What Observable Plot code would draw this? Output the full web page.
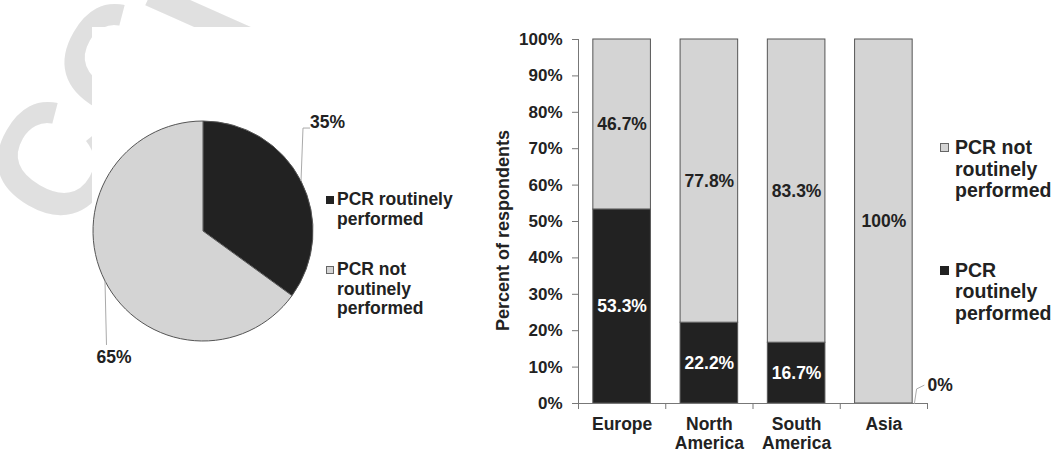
<!DOCTYPE html>
<html>
<head>
<meta charset="utf-8">
<script src="https://cdn.jsdelivr.net/npm/d3@7"></script>
<script src="https://cdn.jsdelivr.net/npm/@observablehq/plot@0.6"></script>
<style>
  html, body { margin: 0; padding: 0; background: #fff; }
  body { position: relative; width: 1052px; height: 453px; overflow: hidden;
         font-family: "Liberation Sans", Arial, Helvetica, sans-serif; font-weight: bold; color: #222; }
  #watermark { position: absolute; left: 0; top: 0; }
  #sheet { position: absolute; left: 92px; top: 27px; right: 0; bottom: 0; background: #fff; }
  #pie, #bars { position: absolute; top: 0; }
  #pie { left: 0; }
  #bars { left: 470px; }
  .legend { position: absolute; }
  .legend .item { position: relative; }
  .legend .swatch { position: absolute; box-sizing: border-box; }
</style>
</head>
<body>
<svg id="watermark" width="1052" height="453"></svg>
<div id="sheet"></div>
<div id="pie"></div>
<div id="bars"></div>
<div id="pieLegend" class="legend"></div>
<div id="barLegend" class="legend"></div>
<script>
// ---- survey results ----
const statuses = ["PCR routinely performed", "PCR not routinely performed"];
const overallShare = [35, 65];                     // all respondents, %
const regions = ["Europe", "North America", "South America", "Asia"];
const routinePct = [53.3, 22.2, 16.7, 0];           // % per region
const notRoutinePct = [46.7, 77.8, 83.3, 100];      // % per region
const yTicks = [0, 10, 20, 30, 40, 50, 60, 70, 80, 90, 100];

// ---- styling ----
const FONT = '"Liberation Sans", Arial, Helvetica, sans-serif';
const DARK = "#222222", LIGHT = "#d4d4d4", EDGE = "#555555", AXIS = "#777777", LEADER = "#aaaaaa";
const color = Plot.scale({color: {type: "ordinal", domain: statuses, range: [DARK, LIGHT]}});

// ---- faint page watermark peeking out around the figure ----
const wmGlyphs = [
  {ch: "C", x: 52, y: 160, rotate: -60},
  {ch: "C", x: 119, y: 62, rotate: -60},
  {ch: "I", x: 198, y: 16, rotate: -66}
];
d3.select("#watermark").selectAll("text").data(wmGlyphs).join("text")
  .attr("transform", d => `translate(${d.x},${d.y}) rotate(${d.rotate})`)
  .attr("text-anchor", "middle").attr("dy", "0.36em")
  .attr("font-family", FONT).attr("font-size", 160).attr("fill", "#e0e0e0")
  .text(d => d.ch);

// ---- pie: all respondents ----
const pieRows = statuses.map((status, i) => ({status, share: overallShare[i]}));

function pieMark(index, scales, values, dims) {
  const {width, height, marginTop, marginRight, marginBottom, marginLeft} = dims;
  const w = width - marginLeft - marginRight, h = height - marginTop - marginBottom;
  const cx = marginLeft + w / 2, cy = marginTop + h / 2, r = Math.min(w, h) / 2;
  const arcs = d3.pie().sort(null).value(d => d.share)(pieRows);
  const arc = d3.arc().innerRadius(0).outerRadius(r);
  const g = d3.create("svg:g").attr("transform", `translate(${cx},${cy})`);
  g.selectAll("path.slice").data(arcs).join("path").attr("class", "slice")
    .attr("d", arc)
    .attr("fill", d => color.apply(d.data.status))
    .attr("stroke", EDGE).attr("stroke-width", 1);
  arcs.forEach(a => {
    const mid = (a.startAngle + a.endAngle) / 2;
    const px = r * Math.sin(mid), py = -r * Math.cos(mid);
    let pts, lx, ly, anchor;
    if (py < 0) {          // upper slice: label up and to the right
      const ty = -r * 0.936;
      pts = [[px, py], [px + 2, ty], [px + 9, ty]];
      lx = px + 9; ly = ty - 6; anchor = "start";
    } else {               // lower slice: label straight below
      const ty = r * 1.036;
      pts = [[px, py], [px + 1.5, ty]];
      lx = px + 9; ly = ty + 12; anchor = "middle";
    }
    g.append("path").attr("d", d3.line()(pts))
      .attr("fill", "none").attr("stroke", LEADER).attr("stroke-width", 1);
    g.append("text").attr("x", lx).attr("y", ly).attr("dy", "0.36em")
      .attr("text-anchor", anchor).attr("fill", DARK).text(`${a.data.share}%`);
  });
  return g.node();
}

document.getElementById("pie").append(Plot.plot({
  width: 470, height: 453,
  marginLeft: 93, marginRight: 157, marginTop: 121, marginBottom: 112,
  style: {fontFamily: FONT, fontSize: "17.5px", fontWeight: "bold", background: "transparent", overflow: "visible"},
  marks: [pieMark]
}));

// ---- stacked bars by region ----
const inset = 0.17;
const segments = regions.flatMap((region, i) => [
  {region, i, status: statuses[0], v: routinePct[i], y1: 0, y2: routinePct[i]},
  {region, i, status: statuses[1], v: notRoutinePct[i], y1: routinePct[i], y2: routinePct[i] + notRoutinePct[i]}
]);
const filled = segments.filter(d => d.v > 0);
const empty = segments.filter(d => d.v === 0);
const mid = d => (d.y1 + d.y2) / 2;

document.getElementById("bars").append(Plot.plot({
  width: 582, height: 453,
  marginLeft: 108, marginRight: 125, marginTop: 39, marginBottom: 50,
  x: {domain: [0, regions.length], axis: null},
  y: {domain: [0, 100], axis: null},
  color: {domain: statuses, range: [DARK, LIGHT]},
  style: {fontFamily: FONT, fontSize: "17.5px", fontWeight: "bold", color: DARK, background: "transparent", overflow: "visible"},
  marks: [
    Plot.rect(filled, {x1: d => d.i + inset, x2: d => d.i + 1 - inset, y1: "y1", y2: "y2",
                       fill: "status", stroke: EDGE, strokeWidth: 1}),
    Plot.ruleX([0], {stroke: AXIS}),
    Plot.ruleY([0], {stroke: AXIS}),
    Plot.axisY({ticks: yTicks, tickFormat: d => `${d}%`, tickSize: 6, tickPadding: 10,
                stroke: AXIS, fill: DARK, fontSize: 17, label: null}),
    Plot.axisX({ticks: d3.range(regions.length + 1), tickFormat: () => "", tickSize: 6,
                stroke: AXIS, label: null}),
    Plot.text(regions, {x: (d, i) => i + 0.5, y: 0, text: d => d.replace(" ", "\n"),
                        lineAnchor: "top", dy: 13, lineHeight: 1.1, fill: DARK}),
    Plot.text(["Percent of respondents"], {frameAnchor: "left", textAnchor: "middle", rotate: -90,
                                          dx: -75, dy: 9, fontSize: 18, fill: DARK}),
    Plot.text(filled.filter(d => d.status === statuses[0]),
              {x: d => d.i + 0.5, y: mid, text: d => `${d.v}%`, fill: "white"}),
    Plot.text(filled.filter(d => d.status === statuses[1]),
              {x: d => d.i + 0.5, y: mid, text: d => `${d.v}%`, fill: DARK}),
    // zero-height segment: value called out beside the bar
    Plot.line(empty.flatMap(d => [
      {x: d.i + 1 - inset + 0.02, y: d.y1},
      {x: d.i + 1 - inset + 0.045, y: d.y1 + 4},
      {x: d.i + 1 - inset + 0.13, y: d.y1 + 5}
    ]), {x: "x", y: "y", stroke: LEADER, strokeWidth: 1}),
    Plot.text(empty, {x: d => d.i + 1 - inset + 0.17, y: d => d.y1 + 5, text: d => `${d.v}%`,
                      textAnchor: "start", fill: DARK})
  ]
}));

// ---- legends ----
function buildLegend(sel, order, o) {
  const root = d3.select(sel)
    .style("left", o.left + "px").style("top", o.top + "px").style("width", o.width + "px")
    .style("font-size", o.fontSize + "px").style("line-height", o.lineHeight + "px");
  const items = root.selectAll("div.item").data(order).join("div").attr("class", "item")
    .style("margin-bottom", (d, i) => (i < order.length - 1 ? o.itemGap : 0) + "px");
  items.append("span").attr("class", "swatch")
    .style("left", -(o.swatch + o.swatchGap) + "px").style("top", o.swatchTop + "px")
    .style("width", o.swatch + "px").style("height", o.swatch + "px")
    .style("background", d => color.apply(d))
    .style("border", d => `1px solid ${d === statuses[0] ? DARK : "#666"}`);
  items.append("span").text(d => d);
}

buildLegend("#pieLegend", [statuses[0], statuses[1]],
  {left: 337, top: 190, width: 125, fontSize: 17.5, lineHeight: 19.5, itemGap: 31,
   swatch: 8, swatchGap: 3, swatchTop: 6});
buildLegend("#barLegend", [statuses[1], statuses[0]],
  {left: 955, top: 137, width: 100, fontSize: 19.5, lineHeight: 21.5, itemGap: 58,
   swatch: 9, swatchGap: 6, swatchTop: 6});
</script>
</body>
</html>
